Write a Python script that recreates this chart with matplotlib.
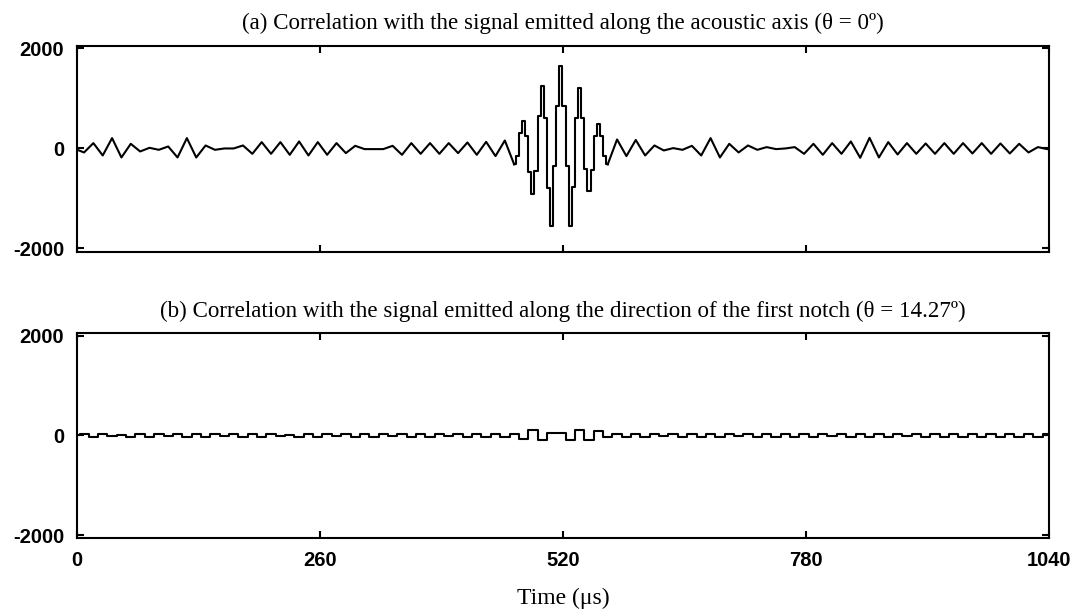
import matplotlib
matplotlib.use('Agg')
import matplotlib.pyplot as plt
import numpy as np

# ---------------- data ----------------
# background of panel (a), one value per extremum (about every 10 us)
time_us = [0, 8, 18, 28, 38, 48, 58, 68, 78, 88, 98,
           108, 118, 128, 138, 148, 158, 168, 178, 188, 198,
           208, 218, 228, 238, 248, 258, 268, 278, 288, 298,
           308, 318, 328, 338, 348, 358, 368, 378, 388, 398,
           408, 418, 428, 438, 448, 458, 468, 478, 488, 498,
           508, 518, 528, 538, 548, 558, 568, 578, 588, 598,
           608, 618, 628, 638, 648, 658, 668, 678, 688, 698,
           708, 718, 728, 738, 748, 758, 768, 778, 788, 798,
           808, 818, 828, 838, 848, 858, 868, 878, 888, 898,
           908, 918, 928, 938, 948, 958, 968, 978, 988, 998,
           1008, 1018, 1028, 1038, 1040]

corr_axis = [-20, -80, 107, -140, 207, -180, 93, -60, 13, -27, 40,
             -180, 207, -180, 60, -27, 0, 0, 60, -107, 127,
             -107, 127, -127, 140, -140, 127, -127, 107, -93, 53,
             -13, -13, -13, 53, -127, 107, -107, 107, -107, 107,
             -93, 120, -127, 133, -153, 160, -320, 547, -920, 1247,
             -1554, 1647, -1554, 1213, -853, 480, -320, 180, -153, 170,
             -140, 60, -40, 7, -27, 53, -140, 207, -180, 93,
             -80, 60, -27, 27, -13, 0, 27, -107, 93, -127,
             107, -107, 140, -187, 213, -180, 127, -120, 107, -107,
             100, -107, 107, -107, 107, -100, 107, -107, 100, -100,
             93, -80, 27, -13, -13]

# main lobe of panel (a), sampled staircase (about every 3.3 us)
burst_time = [468, 471.3, 474.7, 478, 481.3, 484.7, 488, 491.3, 494.7,
              498, 501.3, 504.7, 508, 511.3, 514.7, 518, 521.3, 524.7,
              528, 531.3, 534.7, 538, 541.3, 544.7, 548, 551.3, 554.7,
              558, 561.3, 564.7, 568]
burst_vals = [-320, -150, 300, 547, 250, -480, -920, -450, 650,
              1247, 600, -800, -1554, -353, 847, 1647, 847, -353,
              -1554, -780, 600, 1213, 600, -420, -853, -430, 240,
              480, 240, -160, -320]

corr_notch = [0, 20, -25, 25, -20, 15, -25, 25, -25, 20, -20,
              25, -25, 30, -25, 20, -20, 25, -25, 25, -30,
              20, -20, 15, -25, 25, -25, 20, -20, 25, -25,
              30, -25, 20, -20, 25, -30, 25, -25, 20, -20,
              25, -25, 20, -30, 25, -25, 20, -67, 100, -87,
              40, 40, -87, 100, -87, 87, -30, 25, -25, 20,
              -25, 25, -20, 25, -25, 20, -25, 25, -25, 30,
              -20, 25, -25, 20, -25, 25, -30, 20, -25, 25,
              -20, 25, -25, 20, -25, 25, -25, 30, -20, 25,
              -25, 20, -25, 25, -25, 20, -30, 25, -25, 20,
              -25, 25, -25, 20, 0]

assert len(time_us) == len(corr_axis) == len(corr_notch)
assert len(burst_time) == len(burst_vals)

x_ticks = [0, 260, 520, 780, 1040]
y_ticks = [-2000, 0, 2000]
titles = ["(a) Correlation with the signal emitted along the acoustic axis (\u03b8 = 0\u00ba)",
          "(b) Correlation with the signal emitted along the direction of the first notch (\u03b8 = 14.27\u00ba)"]
x_label = "Time (\u03bcs)"

# ---------------- figure ----------------
serif = ['Liberation Serif', 'DejaVu Serif']
sans = ['Liberation Sans', 'DejaVu Sans']

fig = plt.figure(figsize=(10.75, 6.09), dpi=100)
ax_a = fig.add_axes([0.0712, 0.5867, 0.9047, 0.3378])
ax_b = fig.add_axes([0.0712, 0.1161, 0.9047, 0.3366])

t = np.array(time_us, dtype=float)
va = np.array(corr_axis, dtype=float)
left = t <= burst_time[0]
right = t >= burst_time[-1]
ax_a.plot(t[left], va[left], color='black', lw=1.5, solid_joinstyle='round')
ax_a.plot(t[right], va[right], color='black', lw=1.5, solid_joinstyle='round')
ax_a.plot(burst_time, burst_vals, color='black', lw=1.5, drawstyle='steps-mid')

ax_b.plot(time_us, corr_notch, color='black', lw=1.5, drawstyle='steps-mid')

for ax, title in [(ax_a, titles[0]), (ax_b, titles[1])]:
    ax.set_xlim(0, 1040)
    ax.set_ylim(-2065, 2050)
    ax.set_xticks(x_ticks)
    ax.set_yticks(y_ticks)
    ax.set_xticklabels([str(v) for v in x_ticks], fontfamily=sans, fontweight='bold', fontsize=14.5)
    ax.set_yticklabels([str(v) for v in y_ticks], fontfamily=sans, fontweight='bold', fontsize=14.5)
    ax.tick_params(direction='in', top=True, right=True, length=5, width=1.5, pad=9, colors='black')
    for sp in ax.spines.values():
        sp.set_linewidth(1.5)
        sp.set_color('black')
    ax.set_title(title, fontfamily=serif, fontsize=16.6, pad=12)

ax_a.tick_params(labelbottom=False)
ax_b.set_xlabel(x_label, fontfamily=serif, fontsize=17, labelpad=13)

fig.savefig('out.png', dpi=100, facecolor='white')
